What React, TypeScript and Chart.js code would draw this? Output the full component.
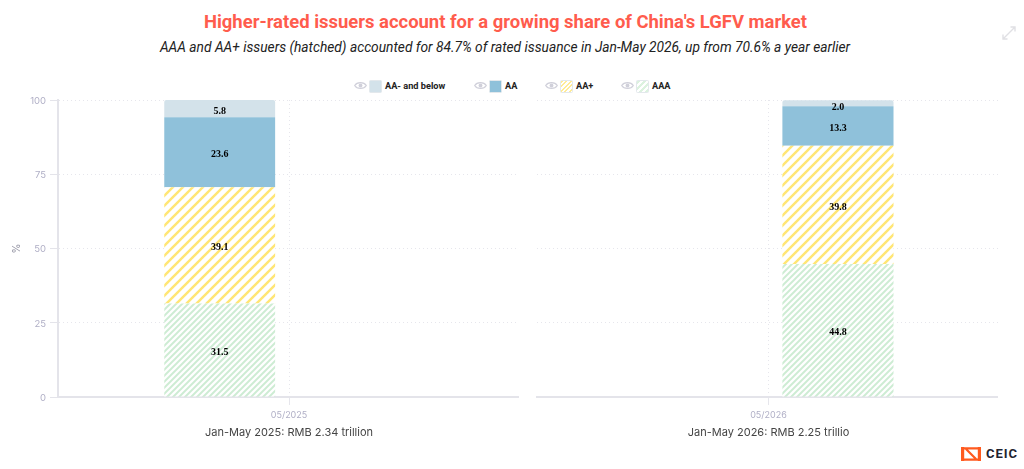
import React, { useEffect, useRef } from "react";
import { Chart, registerables } from "chart.js";

Chart.register(...registerables);

const seriesNames = ["AAA", "AA+", "AA", "AA- and below"];
const values2025 = [31.5, 39.1, 23.6, 5.8];
const values2026 = [44.8, 39.8, 13.3, 2.0];
const tickLabel2025 = ["05/2025"];
const tickLabel2026 = ["05/2026"];
const yTicks = [0, 25, 50, 75, 100];
const titleText = "Higher-rated issuers account for a growing share of China's LGFV market";
const subtitleText = "AAA and AA+ issuers (hatched) accounted for 84.7% of rated issuance in Jan-May 2026, up from 70.6% a year earlier";
const xTitle2025 = "Jan-May 2025: RMB 2.34 trillion";
const xTitle2026 = "Jan-May 2026: RMB 2.25 trillio";

const AXIS = "#e4e4ea";
const GRID = "#e6e6ec";
const TICK_TEXT = "#b0afc6";
const YELLOW = "#ffe675";
const GREEN = "#cdecd3";
const BLUE = "#8fc1da";
const PALE = "#d3e2ea";

function stripes(color: string, size: number, width: number) {
  const c = document.createElement("canvas");
  const dpr = 2;
  c.width = size * dpr;
  c.height = size * dpr;
  const g = c.getContext("2d") as CanvasRenderingContext2D;
  g.scale(dpr, dpr);
  g.fillStyle = "#ffffff";
  g.fillRect(0, 0, size, size);
  g.strokeStyle = color;
  g.lineWidth = width;
  g.beginPath();
  g.moveTo(-size, size);
  g.lineTo(size, -size);
  g.moveTo(0, size);
  g.lineTo(size, 0);
  g.moveTo(0, 2 * size);
  g.lineTo(2 * size, 0);
  g.stroke();
  const p = g.createPattern(c, "repeat") as CanvasPattern;
  p.setTransform(new DOMMatrix().scale(1 / dpr));
  return p;
}

const segmentLabels = {
  id: "segmentLabels",
  afterDatasetsDraw(chart: any) {
    const { ctx, chartArea } = chart;
    ctx.save();
    ctx.font = "bold 10px 'Liberation Serif'";
    ctx.fillStyle = "#000";
    ctx.textAlign = "center";
    ctx.textBaseline = "middle";
    chart.data.datasets.forEach((ds: any, i: number) => {
      const value = ds.data[0];
      if (value == null) return;
      const el = chart.getDatasetMeta(i).data[0];
      const y = Math.max((el.y + el.base) / 2 + 2.5, chartArea.top + 7);
      ctx.fillText(value.toFixed(1), el.x, y);
    });
    ctx.restore();
  },
};

function buildChart(
  canvas: HTMLCanvasElement,
  values: number[],
  tickLabels: string[],
  xTitle: string,
  isLeft: boolean,
) {
  const fills = [stripes(GREEN, 6, 2.0), stripes(YELLOW, 10, 2.4), BLUE, PALE];
  const real = seriesNames.map((name, i) => ({
    label: name,
    stack: "shown",
    data: [values[i]],
    backgroundColor: fills[i],
    borderWidth: 0,
    borderSkipped: false,
    borderRadius: i === seriesNames.length - 1
      ? { topLeft: 2, topRight: 2, bottomLeft: 0, bottomRight: 0 }
      : 0,
    categoryPercentage: 0.6,
    barPercentage: 0.8,
  }));
  const blank = {
    label: "",
    stack: "blank",
    data: [null],
    backgroundColor: "transparent",
    categoryPercentage: 0.6,
    barPercentage: 0.8,
  };
  return new Chart(canvas, {
    type: "bar",
    data: {
      labels: tickLabels,
      datasets: (isLeft ? [...real, blank] : [blank, ...real]) as any,
    },
    plugins: [segmentLabels],
    options: {
      animation: false,
      responsive: false,
      devicePixelRatio: 1,
      layout: { padding: { top: 10, left: isLeft ? 0 : 9, right: 0, bottom: 0 } },
      plugins: { legend: { display: false }, title: { display: false }, tooltip: { enabled: false } },
      scales: {
        x: {
          afterFit(s: any) { s.height = 43; },
          border: { color: AXIS, width: 2, dash: [1, 3] },
          grid: { offset: false, color: GRID, drawTicks: true, tickLength: 8, tickColor: GRID, tickBorderDash: [] },
          ticks: { color: TICK_TEXT, font: { family: "Inter", size: 9 }, padding: 5, maxRotation: 0 },
          title: { display: true, text: xTitle, color: "#444", font: { family: "Inter", size: 11 }, padding: { top: 2, bottom: 1 } },
        },
        y: {
          stacked: true,
          min: 0,
          max: 100,
          afterBuildTicks(s: any) { s.ticks = yTicks.map((value) => ({ value })); },
          afterFit(s: any) { s.width = isLeft ? 58 : 0; },
          border: { display: isLeft, color: AXIS, width: 2, dash: [1, 3] },
          grid: { color: GRID, drawTicks: isLeft, tickLength: 8, tickColor: AXIS, tickBorderDash: [] },
          ticks: { display: isLeft, color: TICK_TEXT, font: { family: "Inter", size: 9.5 }, padding: 4, labelOffset: 1 },
          title: { display: isLeft, text: "%", color: "#8f8f9f", font: { family: "Inter", size: 10 }, padding: { top: 11, bottom: 0 } },
        },
      },
    } as any,
  });
}

const legendItems = [
  { name: seriesNames[3], x: 354, kind: "solid", color: PALE },
  { name: seriesNames[2], x: 474, kind: "solid", color: BLUE },
  { name: seriesNames[1], x: 545, kind: "hatchY", color: "#ffeb96" },
  { name: seriesNames[0], x: 621, kind: "hatchG", color: "#dcf2df" },
];

function Eye({ x }: { x: number }) {
  return (
    <svg width="13" height="9" viewBox="0 0 13 9" style={{ position: "absolute", left: x, top: 81 }}>
      <path d="M0.7 4.5 C3 0.6 10 0.6 12.3 4.5 C10 8.4 3 8.4 0.7 4.5 Z" fill="none" stroke="#d0d0da" strokeWidth="1.2" />
      <circle cx="6.5" cy="4.5" r="1.9" fill="#d0d0da" />
    </svg>
  );
}

function swatchBackground(kind: string, color: string) {
  if (kind === "solid") return color;
  const a = kind === "hatchY" ? 1.6 : 2.2;
  return `repeating-linear-gradient(135deg, ${color} 0 ${a}px, #fff ${a}px ${a * 2}px)`;
}

export default function App() {
  const leftRef = useRef<HTMLCanvasElement>(null);
  const rightRef = useRef<HTMLCanvasElement>(null);

  useEffect(() => {
    document.body.style.margin = "0";
    document.body.style.overflow = "hidden";
    const a = buildChart(leftRef.current as HTMLCanvasElement, values2025, tickLabel2025, xTitle2025, true);
    const b = buildChart(rightRef.current as HTMLCanvasElement, values2026, tickLabel2026, xTitle2026, false);
    return () => {
      a.destroy();
      b.destroy();
    };
  }, []);

  return (
    <div style={{ position: "absolute", left: 0, top: 0, width: 1024, height: 469, background: "#fff", overflow: "hidden" }}>
      <div style={{ position: "absolute", left: 0, width: 1011, top: 10, textAlign: "center", font: "bold 18.45px Roboto", lineHeight: "24px", color: "#ff5c4d" }}>
        {titleText}
      </div>
      <div style={{ position: "absolute", left: 0, width: 1010, top: 38, textAlign: "center", font: "italic 13.75px Roboto", lineHeight: "18px", color: "#222", whiteSpace: "nowrap" }}>
        {subtitleText}
      </div>
      <svg width="16" height="16" viewBox="0 0 16 16" style={{ position: "absolute", left: 1001, top: 25 }}>
        <path d="M2 14 L14 2 M9.5 2 H14 V6.5 M2 9.5 V14 H6.5" fill="none" stroke="#e0e0e4" strokeWidth="1.4" />
      </svg>

      {legendItems.map((it) => (
        <React.Fragment key={it.name}>
          <Eye x={it.x} />
          <span style={{ position: "absolute", left: it.x + 15, top: 80, width: 11, height: 11, borderRadius: 1.5, border: "0.5px solid #e3e8ec", background: swatchBackground(it.kind, it.color) }} />
          <span style={{ position: "absolute", left: it.x + 31, top: 79, font: "bold 9.2px Roboto", lineHeight: "13px", color: "#222", whiteSpace: "nowrap" }}>
            {it.name}
          </span>
        </React.Fragment>
      ))}

      <div style={{ position: "absolute", left: 0, top: 90, width: 519, height: 350, overflow: "hidden" }}>
        <canvas ref={leftRef} width={520} height={350} style={{ width: 520, height: 350, display: "block" }} />
      </div>
      <div style={{ position: "absolute", left: 528, top: 90, width: 470, height: 350, overflow: "hidden" }}>
        <canvas ref={rightRef} width={472} height={350} style={{ width: 472, height: 350, display: "block" }} />
      </div>

      <svg width="20" height="14" viewBox="0 0 20 14" style={{ position: "absolute", left: 961, top: 447 }}>
        <rect x="0" y="0" width="3.2" height="14" fill="#ff5a1f" />
        <rect x="16.8" y="0" width="3.2" height="14" fill="#ff5a1f" />
        <path d="M3 1.3 H17 M5 2 L15 12 M3 12.7 H17" stroke="#ff5a1f" strokeWidth="2.2" fill="none" />
      </svg>
      <div style={{ position: "absolute", left: 986, top: 445, font: "bold 13px Roboto", lineHeight: "17px", letterSpacing: "1px", color: "#1f2430" }}>
        CEIC
      </div>
    </div>
  );
}
